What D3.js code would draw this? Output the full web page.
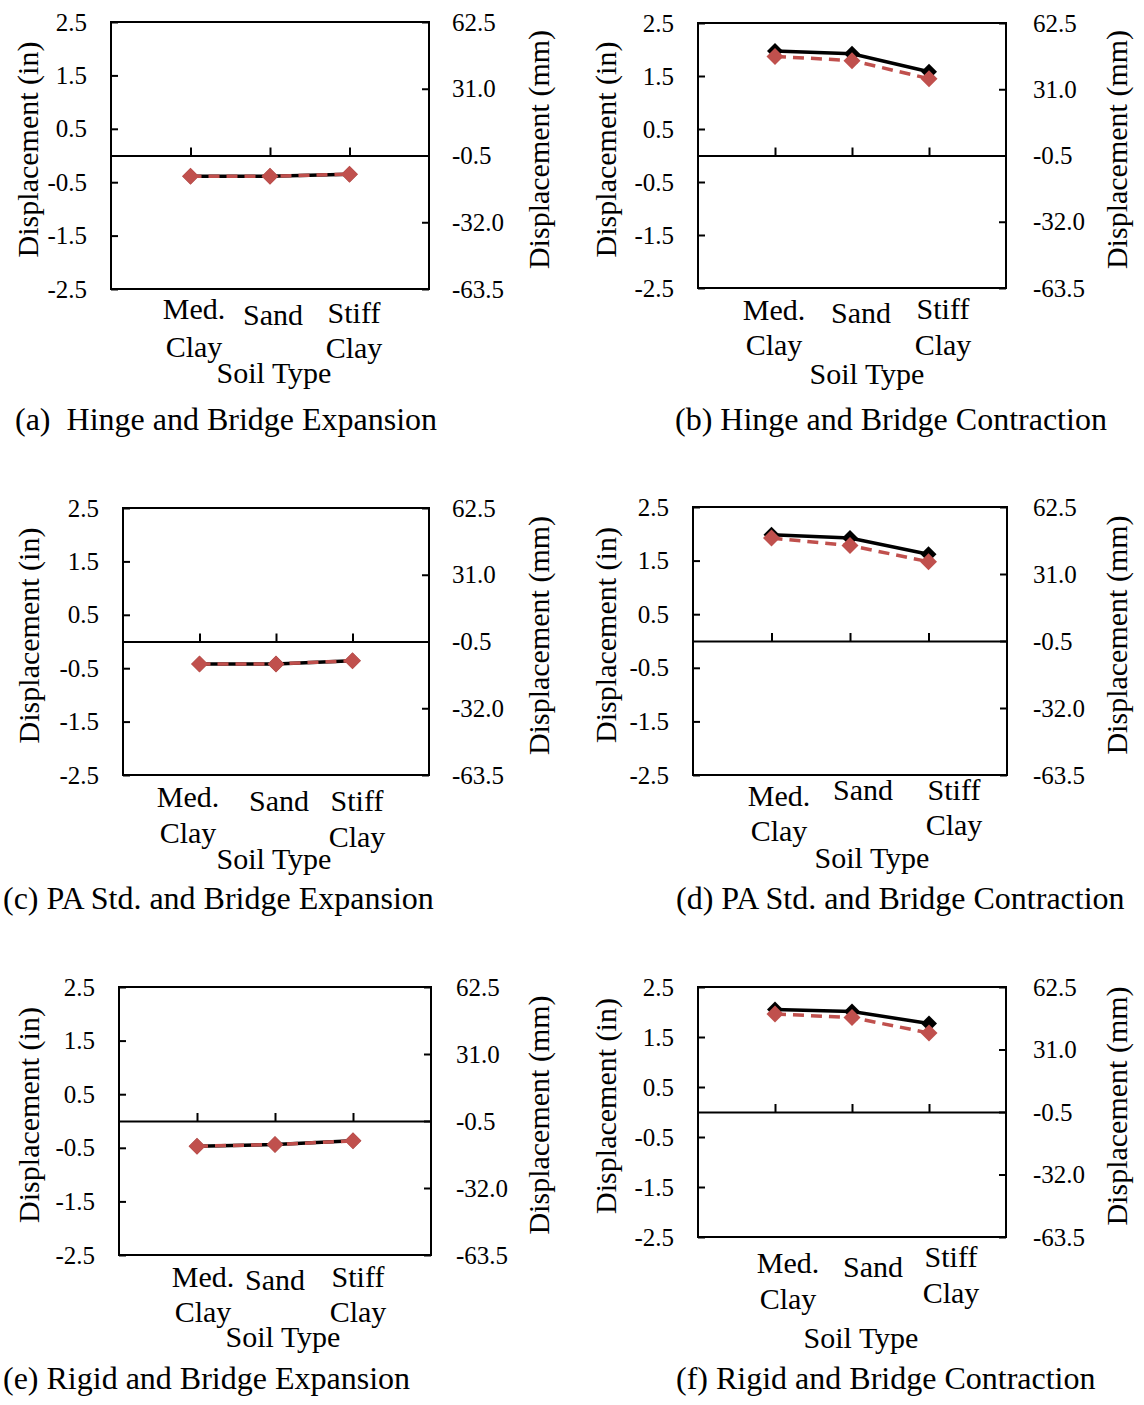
<!DOCTYPE html>
<html>
<head>
<meta charset="utf-8">
<script src="https://cdn.jsdelivr.net/npm/d3@7"></script>
<style>
  body { margin: 0; background: #fff; }
  svg { display: block; }
  text { font-family: "Liberation Serif", "Times New Roman", serif; fill: #000; }
</style>
</head>
<body>
<svg id="chart" width="1144" height="1405"></svg>
<script>
// Soil categories along the horizontal axis
const categories = ["Med. Clay", "Sand", "Stiff Clay"];
const categoryLines = [["Med.", "Clay"], ["Sand"], ["Stiff", "Clay"]];

// Tick values: inches on the left, millimetres on the right
const inchTicks = [2.5, 1.5, 0.5, -0.5, -1.5, -2.5];
const mmTicks = [62.5, 31.0, -0.5, -32.0, -63.5];

// Displacement (in) — solid black series and dashed red series per case
const hingeExpansionBlack = [-0.39, -0.39, -0.35];
const hingeExpansionRed = [-0.39, -0.39, -0.35];
const hingeContractionBlack = [1.97, 1.92, 1.58];
const hingeContractionRed = [1.87, 1.79, 1.45];
const paExpansionBlack = [-0.42, -0.42, -0.36];
const paExpansionRed = [-0.42, -0.42, -0.36];
const paContractionBlack = [1.98, 1.92, 1.62];
const paContractionRed = [1.92, 1.78, 1.48];
const rigidExpansionBlack = [-0.47, -0.44, -0.37];
const rigidExpansionRed = [-0.47, -0.44, -0.37];
const rigidContractionBlack = [2.05, 2.01, 1.77];
const rigidContractionRed = [1.96, 1.89, 1.58];

const captions = [
  "(a)  Hinge and Bridge Expansion",
  "(b) Hinge and Bridge Contraction",
  "(c) PA Std. and Bridge Expansion",
  "(d) PA Std. and Bridge Contraction",
  "(e) Rigid and Bridge Expansion",
  "(f) Rigid and Bridge Contraction"
];
const seriesBlack = [hingeExpansionBlack, hingeContractionBlack, paExpansionBlack,
                     paContractionBlack, rigidExpansionBlack, rigidContractionBlack];
const seriesRed = [hingeExpansionRed, hingeContractionRed, paExpansionRed,
                   paContractionRed, rigidExpansionRed, rigidContractionRed];

// Panel frames and text placement
const layout = [
  { x0: 111, x1: 429, y0: 22, y1: 289, lTitle: 27, rTitle: 538, rPad: 23,
    lab: [[194, 30, 68], [273, 36], [354, 34, 69]], soil: [274, 94], cap: [15, 141] },
  { x0: 698, x1: 1006, y0: 23, y1: 288, lTitle: 605, rTitle: 1116, rPad: 27,
    lab: [[774, 32, 67], [861, 35], [943, 31, 67]], soil: [867, 96], cap: [675, 142] },
  { x0: 123, x1: 429, y0: 508, y1: 775, lTitle: 28, rTitle: 538, rPad: 23,
    lab: [[188, 32, 68], [279, 36], [357, 36, 72]], soil: [274, 94], cap: [3, 134] },
  { x0: 693, x1: 1007, y0: 507, y1: 775, lTitle: 605, rTitle: 1116, rPad: 26,
    lab: [[779, 31, 66], [863, 25], [954, 25, 60]], soil: [872, 93], cap: [676, 134] },
  { x0: 119, x1: 431, y0: 987, y1: 1255, lTitle: 28, rTitle: 538, rPad: 25,
    lab: [[203, 32, 67], [275, 35], [358, 32, 67]], soil: [283, 92], cap: [3, 134] },
  { x0: 698, x1: 1006, y0: 987, y1: 1237, lTitle: 605, rTitle: 1116, rPad: 27,
    lab: [[788, 36, 72], [873, 40], [951, 30, 66]], soil: [861, 111], cap: [676, 152] }
];

const RED = "#C0504D";
const FONT = '"Liberation Serif", "Times New Roman", serif';
const fmt = d => d3.format(".1f")(d).replace("\u2212", "-");
const diamond = r => `M0,${-r}L${r},0L0,${r}L${-r},0Z`;

const svg = d3.select("#chart");

layout.forEach((p, i) => {
  const g = svg.append("g").style("font-family", FONT);
  const x = d3.scalePoint().domain(categories).range([p.x0, p.x1]).padding(1);
  const yIn = d3.scaleLinear().domain([-2.5, 2.5]).range([p.y1, p.y0]);
  const yMm = d3.scaleLinear().domain([-63.5, 62.5]).range([p.y1, p.y0]);

  // plot frame
  g.append("rect")
    .attr("x", p.x0).attr("y", p.y0)
    .attr("width", p.x1 - p.x0).attr("height", p.y1 - p.y0)
    .attr("fill", "none").attr("stroke", "#000").attr("stroke-width", 2);

  // left axis (in)
  const left = g.append("g").attr("transform", `translate(${p.x0},0)`)
    .call(d3.axisLeft(yIn).tickValues(inchTicks).tickSize(-7).tickPadding(24).tickFormat(fmt));
  // right axis (mm)
  const right = g.append("g").attr("transform", `translate(${p.x1},0)`)
    .call(d3.axisRight(yMm).tickValues(mmTicks).tickSize(-7).tickPadding(p.rPad).tickFormat(fmt));
  [left, right].forEach(a => {
    a.attr("font-family", null).attr("font-size", null);
    a.select(".domain").remove();
    a.selectAll("line").attr("stroke", "#000").attr("stroke-width", 2);
    a.selectAll("text").style("font-family", FONT).style("font-size", "25px").attr("fill", "#000");
  });

  // horizontal category axis along zero
  const xa = g.append("g").attr("transform", `translate(0,${yIn(0)})`)
    .call(d3.axisTop(x).tickSize(8).tickSizeOuter(0).tickFormat(""));
  xa.select(".domain").attr("stroke", "#000").attr("stroke-width", 2.2);
  xa.selectAll("line").attr("stroke", "#000").attr("stroke-width", 2);

  // axis titles
  const midY = (p.y0 + p.y1) / 2 - 6;
  g.append("text").attr("transform", `translate(${p.lTitle},${midY}) rotate(-90)`)
    .attr("text-anchor", "middle").attr("dominant-baseline", "central")
    .style("font-size", "30px").text("Displacement (in)");
  g.append("text").attr("transform", `translate(${p.rTitle},${midY}) rotate(-90)`)
    .attr("text-anchor", "middle").attr("dominant-baseline", "central")
    .style("font-size", "30px").text("Displacement (mm)");

  // category labels
  categoryLines.forEach((lines, k) => {
    const spec = p.lab[k];
    lines.forEach((t, j) => {
      g.append("text").attr("x", spec[0]).attr("y", p.y1 + spec[j + 1])
        .attr("text-anchor", "middle").style("font-size", "30px").text(t);
    });
  });
  g.append("text").attr("x", p.soil[0]).attr("y", p.y1 + p.soil[1])
    .attr("text-anchor", "middle").style("font-size", "30px").text("Soil Type");

  // caption
  g.append("text").attr("x", p.cap[0]).attr("y", p.y1 + p.cap[1])
    .style("font-size", "32px").style("white-space", "pre").text(captions[i]);

  // series
  const line = d3.line().x((d, k) => x(categories[k])).y(d => yIn(d));
  g.append("path").datum(seriesBlack[i]).attr("d", line)
    .attr("fill", "none").attr("stroke", "#000").attr("stroke-width", 3.5);
  g.selectAll(".mb").data(seriesBlack[i]).enter().append("path")
    .attr("transform", (d, k) => `translate(${x(categories[k])},${yIn(d)})`)
    .attr("d", diamond(8)).attr("fill", "#000");
  g.append("path").datum(seriesRed[i]).attr("d", line)
    .attr("fill", "none").attr("stroke", RED).attr("stroke-width", 3.5)
    .attr("stroke-dasharray", "11,7");
  g.selectAll(".mr").data(seriesRed[i]).enter().append("path")
    .attr("transform", (d, k) => `translate(${x(categories[k])},${yIn(d)})`)
    .attr("d", diamond(8.5)).attr("fill", RED);
});
</script>
</body>
</html>
